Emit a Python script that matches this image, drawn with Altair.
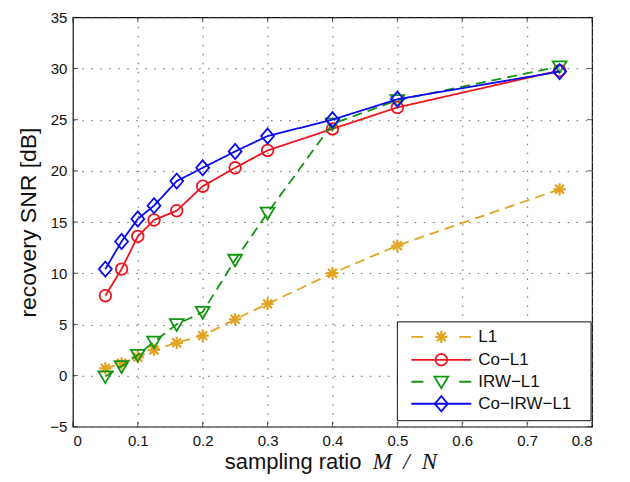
import altair as alt
import pandas as pd

# ---- data ----
ratios = [0.05, 0.075, 0.1, 0.125, 0.16, 0.2, 0.25, 0.3, 0.4, 0.5, 0.75]
snr_l1 = [0.7, 1.2, 1.8, 2.5, 3.2, 3.9, 5.5, 7.0, 10.0, 12.7, 18.2]
snr_co_l1 = [7.8, 10.4, 13.6, 15.2, 16.1, 18.5, 20.3, 22.0, 24.1, 26.2, 29.8]
snr_irw_l1 = [-0.1, 0.9, 2.0, 3.3, 5.0, 6.2, 11.3, 15.9, 24.6, 26.9, 30.2]
snr_co_irw_l1 = [10.4, 13.1, 15.3, 16.6, 19.0, 20.3, 21.9, 23.4, 25.0, 27.0, 29.7]

series_names = ["L1", "Co-L1", "IRW-L1", "Co-IRW-L1"]
series_values = [snr_l1, snr_co_l1, snr_irw_l1, snr_co_irw_l1]
series_colors = ["#E3A424", "#EE1520", "#129512", "#0A0AF0"]
series_dash = [[10, 6], [1, 0], [10, 6], [1, 0]]
legend_labels = ["L1", "Co\u2212L1", "IRW\u2212L1", "Co\u2212IRW\u2212L1"]

STAR = "M0,-1L0,1M-1,0L1,0M-0.72,-0.72L0.72,0.72M-0.72,0.72L0.72,-0.72"
TRI = "M-1,-0.75L1,-0.75L0,0.95Z"
DIAM = "M0,-1L0.85,0L0,1L-0.85,0Z"
series_shapes = [STAR, "circle", TRI, DIAM]
series_sizes = [150, 135, 190, 230]

x_ticks = [0, 0.1, 0.2, 0.3, 0.4, 0.5, 0.6, 0.7, 0.8]
y_ticks = [-5, 0, 5, 10, 15, 20, 25, 30, 35]

W, H = 520, 410
TOP = 9
FONT = "Liberation Sans"

xs = alt.Scale(domain=[0, 0.8], nice=False, zero=False)
ys = alt.Scale(domain=[-5, 35], nice=False, zero=False)

x_axis = alt.Axis(values=x_ticks, format="~g", grid=True, ticks=False,
                  labelFontSize=15, labelFont=FONT, labelColor="#111",
                  labelPadding=7, domain=False, title=None,
                  gridDash=[1.5, 7.5], gridColor="#666", gridWidth=1)
y_axis = alt.Axis(values=y_ticks, format="~g", grid=True, ticks=False,
                  labelFontSize=15, labelFont=FONT, labelColor="#111",
                  labelPadding=6, domain=False, title="recovery SNR [dB]",
                  titleFontSize=23, titleFont=FONT, titleFontWeight="normal",
                  titleColor="#111", titlePadding=9,
                  gridDash=[1.5, 7.5], gridColor="#666", gridWidth=1)

layers = []

# invisible base carrying axes
base_df = pd.DataFrame({"x": [0, 0.8], "y": [-5, 35]})
layers.append(alt.Chart(base_df).mark_point(opacity=0).encode(
    x=alt.X("x:Q", scale=xs, axis=x_axis),
    y=alt.Y("y:Q", scale=ys, axis=y_axis)))

for name, vals, col, dash, shp, sz in zip(series_names, series_values, series_colors,
                                           series_dash, series_shapes, series_sizes):
    df = pd.DataFrame({"x": ratios, "y": vals, "s": name})
    line = alt.Chart(df).mark_line(color=col, strokeWidth=1.8, strokeDash=dash).encode(
        x=alt.X("x:Q", scale=xs), y=alt.Y("y:Q", scale=ys))
    pts = alt.Chart(df).mark_point(shape=shp, size=sz, color=col, filled=False,
                                   strokeWidth=1.8 if shp != STAR else 2.2, opacity=1).encode(
        x=alt.X("x:Q", scale=xs), y=alt.Y("y:Q", scale=ys))
    layers += [line, pts]

# inward ticks on all four sides
xt = pd.DataFrame({"x": x_ticks})
yt = pd.DataFrame({"y": y_ticks})
for yv in [H - 2.5, 2.5]:
    layers.append(alt.Chart(xt).mark_tick(color="#111", size=5, thickness=1).encode(
        x=alt.X("x:Q", scale=xs), y=alt.value(yv)))
for xv in [2.5, W - 2.5]:
    layers.append(alt.Chart(yt).mark_tick(color="#111", size=5, thickness=1).encode(
        y=alt.Y("y:Q", scale=ys), x=alt.value(xv)))

# legend box
one = pd.DataFrame({"t": [""]})
layers.append(alt.Chart(one).mark_rect(fill="white", stroke="#111", strokeWidth=1).encode(
    x=alt.value(325), x2=alt.value(519), y=alt.value(H - 105), y2=alt.value(H - 6)))
row_off = [90, 67, 45, 23]
for lab, col, dash, shp, sz, off in zip(legend_labels, series_colors, series_dash,
                                         series_shapes, series_sizes, row_off):
    yv = H - off
    ldash = [12, 36] if dash[1] else [1, 0]
    layers.append(alt.Chart(one).mark_rule(color=col, strokeWidth=1.8, strokeDash=ldash).encode(
        x=alt.value(339), x2=alt.value(399), y=alt.value(yv)))
    layers.append(alt.Chart(one).mark_point(shape=shp, size=sz, color=col, filled=False,
                                            strokeWidth=1.8 if shp != STAR else 2.2, opacity=1).encode(
        x=alt.value(369), y=alt.value(yv)))
    layers.append(alt.Chart(pd.DataFrame({"t": [lab]})).mark_text(
        align="left", baseline="middle", font=FONT, fontSize=17, color="#111").encode(
        x=alt.value(406), y=alt.value(yv), text="t:N"))

# x-axis title: "sampling ratio" + italic M/N
layers.append(alt.Chart(pd.DataFrame({"t": ["sampling ratio"]})).mark_text(
    align="right", baseline="alphabetic", font=FONT, fontSize=22, color="#111").encode(
    x=alt.value(289), y=alt.value(H + 42), text="t:N"))
for ch, xv in zip(["M", "/", "N"], [310, 334, 357]):
    layers.append(alt.Chart(pd.DataFrame({"t": [ch]})).mark_text(
        align="center", baseline="alphabetic", font="Liberation Serif", fontStyle="italic",
        fontSize=23, color="#111").encode(
        x=alt.value(xv), y=alt.value(H + 42), text="t:N"))

chart = alt.layer(*layers).properties(
    width=W, height=H,
    autosize=alt.AutoSizeParams(type="none"),
    padding={"left": 65, "top": TOP, "right": 30, "bottom": 47},
    background="white",
).configure_view(stroke="#111", strokeWidth=1.2)

chart.save("out.html", embed_options={"renderer": "svg", "actions": False})
